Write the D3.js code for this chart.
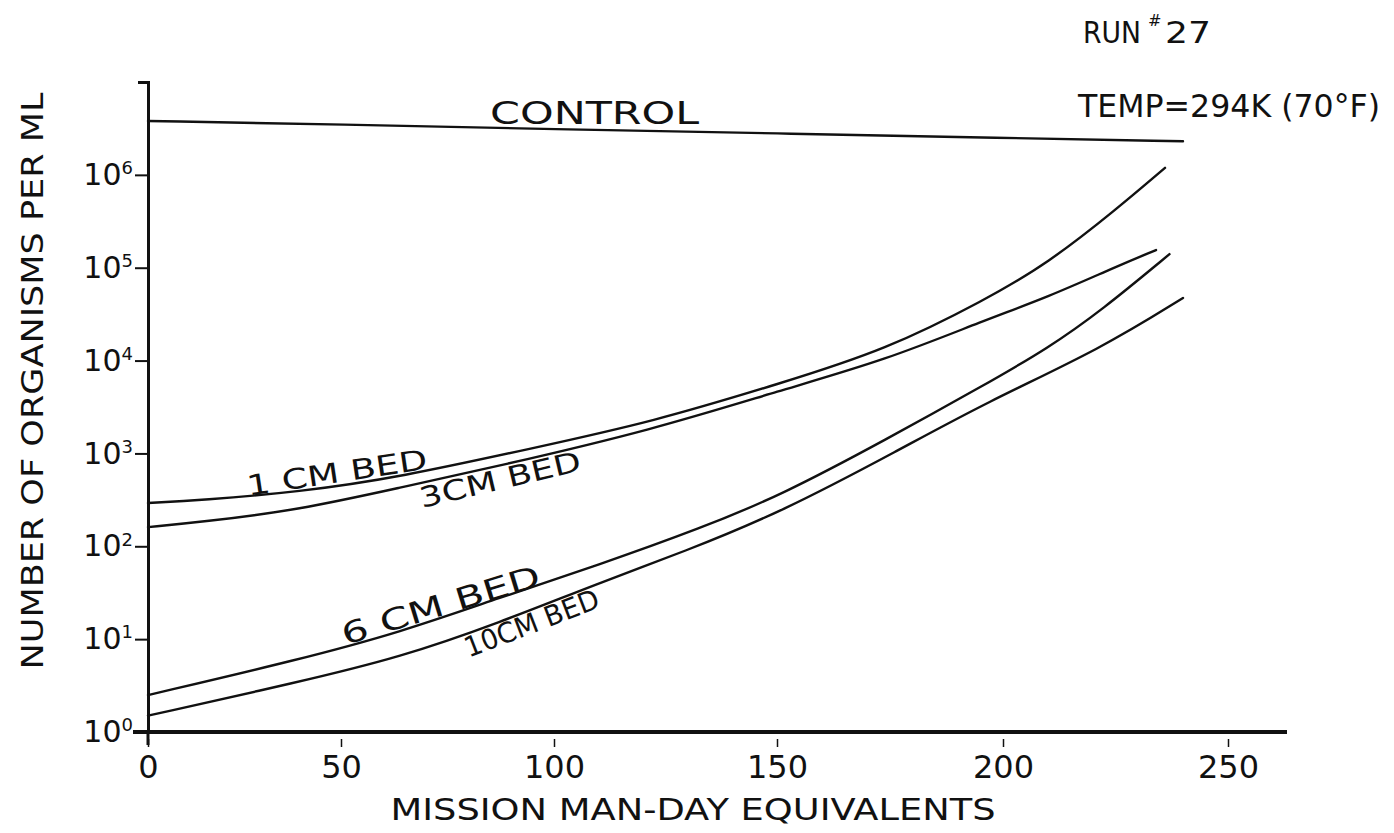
<!DOCTYPE html>
<html>
<head>
<meta charset="utf-8">
<script src="https://cdn.jsdelivr.net/npm/d3@7"></script>
<style>
  body { margin: 0; background: #fff; }
  svg { display: block; }
  .curve { fill: none; stroke: #111; stroke-width: 2.4; stroke-linecap: round; }
  text { font-family: "DejaVu Sans", sans-serif; fill: #111; }
</style>
</head>
<body>
<div id="chart"></div>
<script>

// tick values
var dayTicks = [0, 50, 100, 150, 200, 250];
var powerTicks = [0, 1, 2, 3, 4, 5, 6];
var dayMax = 263;

// curves: mission man-days vs organisms per ml
var controlDays = [0, 50, 100, 150, 200, 240];
var controlCounts = [3.8e6, 3.5e6, 3.1e6, 2.8e6, 2.5e6, 2.3e6];

var bed1Days = [0, 14, 39, 64, 95, 122, 151, 174, 196, 210, 225, 236];
var bed1Counts = [292, 315, 384, 557, 1140, 2180, 5730, 13000, 44900, 112000, 418000, 1190000];

var bed3Days = [0, 14, 39, 64, 87, 122, 151, 174, 196, 210, 225, 234];
var bed3Counts = [161, 183, 246, 430, 732, 1790, 4820, 10100, 27300, 48300, 102000, 155000];

var bed6Days = [0, 39, 64, 87, 110, 133, 151, 174, 196, 210, 222, 237];
var bed6Counts = [2.5, 6.0, 11.9, 27.7, 62.9, 157, 357, 1400, 5500, 13600, 35000, 140000];

var bed10Days = [0, 39, 64, 87, 110, 129, 151, 177, 196, 222, 240];
var bed10Counts = [1.5, 3.45, 6.4, 14.9, 40.2, 86.8, 234, 1090, 3490, 13600, 47200];

var series = [
  {name: "control", days: controlDays, counts: controlCounts},
  {name: "bed1", days: bed1Days, counts: bed1Counts},
  {name: "bed3", days: bed3Days, counts: bed3Counts},
  {name: "bed6", days: bed6Days, counts: bed6Counts},
  {name: "bed10", days: bed10Days, counts: bed10Counts}
];

// hand lettering along the curves
var notes = [
  {text: "CONTROL", day: 85, count: 3.5e6, angle: 0, length: 209, size: 32},
  {text: "1 CM BED", day: 26, count: 350, angle: -8.5, length: 182, size: 28},
  {text: "3CM BED", day: 69, count: 258, angle: -13.3, length: 165, size: 28},
  {text: "6 CM BED", day: 51, count: 8.6, angle: -17, length: 206, size: 30},
  {text: "10CM BED", day: 80, count: 6.3, angle: -21, length: 142, size: 28}
];

var margin = {top: 82, right: 107, bottom: 101, left: 148},
    width = 1394 - margin.left - margin.right,
    height = 833 - margin.top - margin.bottom;

// the drawn x ticks are not evenly spaced, so the scale follows them
var x = d3.scaleLinear()
    .domain([0, 50, 100, 150, 200, 250, dayMax])
    .range([0, 193, 406, 629, 855, 1080, width]);

var y = d3.scaleLog().domain([1, 1e7]).range([height, 0]);

var root = d3.select("#chart").append("svg")
    .attr("width", width + margin.left + margin.right)
    .attr("height", height + margin.top + margin.bottom);

var svg = root.append("g")
    .attr("transform", "translate(" + margin.left + "," + margin.top + ")");

// x axis
var xAxis = svg.append("g")
    .attr("class", "x-axis")
    .attr("transform", "translate(0," + height + ")")
    .call(d3.axisBottom(x).tickValues(dayTicks).tickSizeOuter(0));

xAxis.select(".domain")
    .attr("d", "M-15,0H" + x(dayMax))
    .attr("stroke", "#111")
    .attr("stroke-width", 4);
xAxis.selectAll(".tick line")
    .attr("y1", 7).attr("y2", 15)
    .attr("stroke", "#111").attr("stroke-width", 1.5);
xAxis.selectAll(".tick text")
    .attr("y", 23)
    .attr("font-size", 32)
    .attr("font-family", "DejaVu Sans, sans-serif");

// y axis
var yAxis = svg.append("g")
    .attr("class", "y-axis")
    .call(d3.axisLeft(y)
      .tickValues(powerTicks.map(function(p) { return Math.pow(10, p); }))
      .tickSize(13)
      .tickSizeOuter(10)
      .tickFormat(""));

yAxis.select(".domain").attr("stroke", "#111").attr("stroke-width", 3);
yAxis.selectAll(".tick line").attr("stroke", "#111").attr("stroke-width", 2);
yAxis.selectAll(".tick text")
    .attr("font-size", 30)
    .attr("font-family", "DejaVu Sans, sans-serif")
    .attr("x", -15)
    .each(function(d) {
      var t = d3.select(this);
      t.append("tspan").text("10");
      t.append("tspan")
        .attr("dy", "-0.6em")
        .attr("font-size", 18)
        .text(Math.round(Math.log10(d)));
    });

// axis runs a little below the base line
svg.append("line")
    .attr("x1", 0).attr("x2", 0)
    .attr("y1", height).attr("y2", height + 13)
    .attr("stroke", "#111").attr("stroke-width", 3);

// curves
var line = d3.line()
    .x(function(d) { return x(d[0]); })
    .y(function(d) { return y(d[1]); })
    .curve(d3.curveBasis);

svg.selectAll(".curve")
    .data(series)
  .enter().append("path")
    .attr("class", function(d) { return "curve curve--" + d.name; })
    .attr("d", function(d) { return line(d3.zip(d.days, d.counts)); });

// curve labels
svg.selectAll(".note")
    .data(notes)
  .enter().append("text")
    .attr("class", "note")
    .attr("transform", function(d) {
      return "translate(" + x(d.day) + "," + y(d.count) + ") rotate(" + d.angle + ")";
    })
    .attr("font-size", function(d) { return d.size; })
    .attr("textLength", function(d) { return d.length; })
    .attr("lengthAdjust", "spacingAndGlyphs")
    .text(function(d) { return d.text; });

// axis titles
root.append("text")
    .attr("transform", "translate(43," + (margin.top + 299) + ") rotate(-90)")
    .attr("text-anchor", "middle")
    .attr("font-size", 31)
    .attr("textLength", 577)
    .attr("lengthAdjust", "spacingAndGlyphs")
    .text("NUMBER OF ORGANISMS PER ML");

root.append("text")
    .attr("x", 693)
    .attr("y", 820)
    .attr("text-anchor", "middle")
    .attr("font-size", 31)
    .attr("textLength", 605)
    .attr("lengthAdjust", "spacingAndGlyphs")
    .text("MISSION MAN-DAY EQUIVALENTS");

// run notes, top right
root.append("text")
    .attr("x", 1083).attr("y", 43)
    .attr("font-size", 30)
    .attr("textLength", 58)
    .attr("lengthAdjust", "spacingAndGlyphs")
    .text("RUN");
root.append("text")
    .attr("x", 1148).attr("y", 26)
    .attr("font-size", 16)
    .text("#");
root.append("text")
    .attr("x", 1165).attr("y", 43)
    .attr("font-size", 30)
    .attr("textLength", 46)
    .attr("lengthAdjust", "spacingAndGlyphs")
    .text("27");

root.append("text")
    .attr("x", 1078)
    .attr("y", 117)
    .attr("font-size", 32)
    .attr("textLength", 302)
    .attr("lengthAdjust", "spacingAndGlyphs")
    .text("TEMP=294K (70°F)");

</script>
</body>
</html>
